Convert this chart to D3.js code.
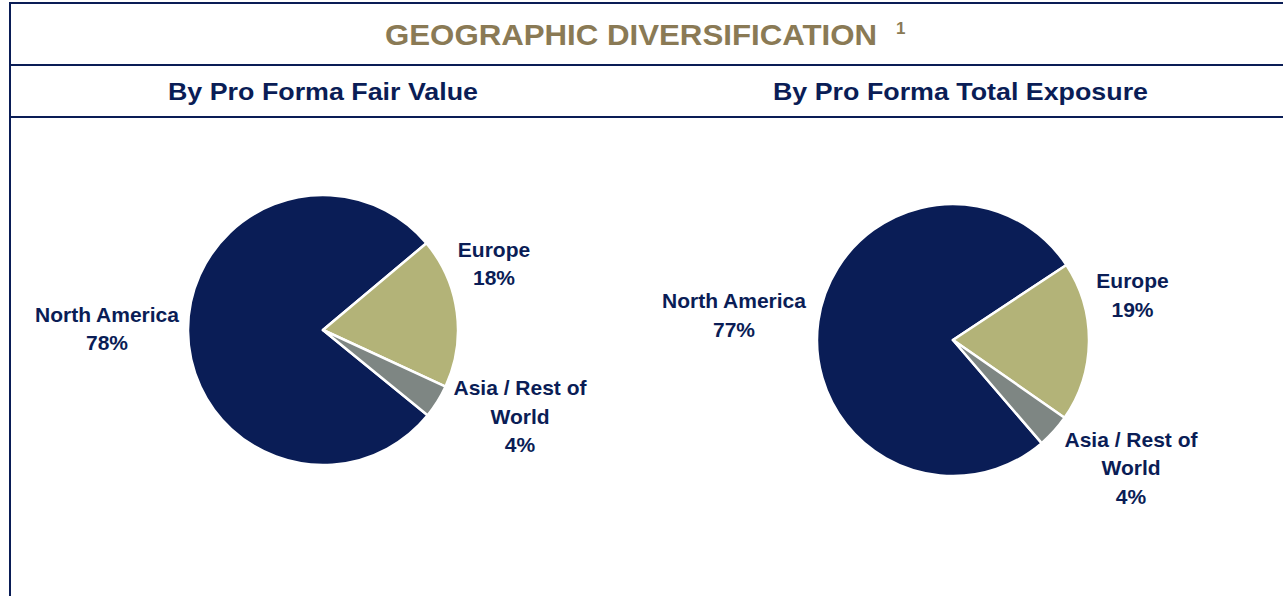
<!DOCTYPE html>
<html lang="en">
<head>
    <meta charset="UTF-8">
    <script src="https://cdn.jsdelivr.net/npm/d3@7"></script>
    <title>Geographic Diversification</title>
    <style>
        body { margin: 0; background: #fff; }
        text { font-family: Arial, "Liberation Sans", sans-serif; font-weight: bold; }
    </style>
</head>
<body>
</body>
<script>
    // data
    let categories = ["North America", "Europe", "Asia / Rest of World"];
    let fairValue = [78, 18, 4];
    let totalExposure = [77, 19, 4];
    let chartTitles = ["By Pro Forma Fair Value", "By Pro Forma Total Exposure"];
    // label lines for each category
    let labelLines = [["North America"], ["Europe"], ["Asia / Rest of", "World"]];

    let navy = "#0a1d56";
    let colors = d3.scaleOrdinal()
        .domain(categories)
        .range([navy, "#b3b378", "#7e8683"]);

    let W = 1283, H = 596;
    let svg = d3.select("body")
        .append("svg")
        .attr("width", W)
        .attr("height", H);

    // frame lines
    svg.append("line").attr("x1", 10).attr("x2", 10).attr("y1", 2).attr("y2", H)
        .attr("stroke", navy).attr("stroke-width", 2);
    [3, 65, 117].forEach(y => {
        svg.append("line").attr("x1", 9).attr("x2", W).attr("y1", y).attr("y2", y)
            .attr("stroke", navy).attr("stroke-width", 2);
    });

    // main title (reference font is a bit wider, so stretch to its width)
    svg.append("text")
        .attr("x", 385)
        .attr("y", 45)
        .attr("fill", "#8a7a55")
        .attr("font-size", 30)
        .attr("textLength", 492)
        .attr("lengthAdjust", "spacingAndGlyphs")
        .text("GEOGRAPHIC DIVERSIFICATION");
    svg.append("text")
        .attr("x", 896)
        .attr("y", 34)
        .attr("fill", "#8a7a55")
        .attr("font-size", 17)
        .text("1");

    // pies
    let pies = [
        {values: fairValue, cx: 323, cy: 330, r: 135, start: 129.2,
         labels: [[107, 321.5], [494, 256.7], [520, 395]]},
        {values: totalExposure, cx: 953, cy: 340, r: 136, start: 139.3,
         labels: [[734, 308.3], [1132.5, 288.3], [1131, 446.7]]}
    ];
    let subX = [168, 773];
    let subW = [310, 375];
    let lineH = 28.5;

    pies.forEach((p, k) => {
        svg.append("text")
            .attr("x", subX[k])
            .attr("y", 100)
            .attr("fill", navy)
            .attr("font-size", 24)
            .attr("textLength", subW[k])
            .attr("lengthAdjust", "spacingAndGlyphs")
            .text(chartTitles[k]);

        let rad = Math.PI / 180;
        let pie = d3.pie().sort(null)
            .startAngle(p.start * rad)
            .endAngle((p.start + 360) * rad);
        let arc = d3.arc().innerRadius(0).outerRadius(p.r);

        let g = svg.append("g").attr("transform", `translate(${p.cx}, ${p.cy})`);
        g.selectAll("path")
            .data(pie(p.values))
            .enter()
            .append("path")
            .attr("d", arc)
            .attr("fill", (d, i) => colors(categories[i]))
            .attr("stroke", "#fff")
            .attr("stroke-width", 2.5)
            .attr("stroke-linejoin", "round");

        // labels
        p.values.forEach((v, i) => {
            let lines = labelLines[i].concat([v + "%"]);
            let t = svg.append("text")
                .attr("text-anchor", "middle")
                .attr("fill", navy)
                .attr("font-size", 21);
            lines.forEach((s, j) => {
                t.append("tspan")
                    .attr("x", p.labels[i][0])
                    .attr("y", p.labels[i][1] + j * lineH)
                    .text(s);
            });
        });
    });
</script>
</html>
